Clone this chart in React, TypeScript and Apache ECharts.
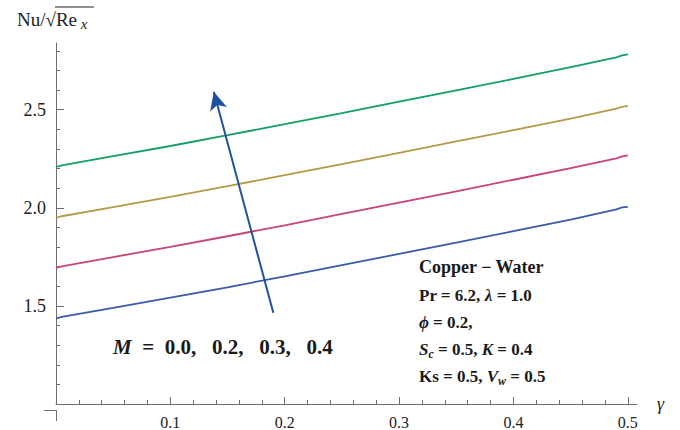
import React, { useEffect, useRef } from "react";
import * as echarts from "echarts";

// gamma values (x)
const gamma = [0, 0.005, 0.05, 0.1, 0.15, 0.2, 0.25, 0.3, 0.35, 0.4, 0.45, 0.49, 0.495, 0.5];
// Nu/sqrt(Re_x) for M = 0.0, 0.2, 0.3, 0.4
const nuM00 = [1.435, 1.444, 1.49, 1.542, 1.595, 1.651, 1.708, 1.765, 1.823, 1.881, 1.94, 1.992, 2.002, 2.005];
const nuM02 = [1.694, 1.702, 1.749, 1.801, 1.855, 1.911, 1.969, 2.026, 2.084, 2.143, 2.202, 2.252, 2.262, 2.267];
const nuM03 = [1.949, 1.957, 2.004, 2.056, 2.11, 2.166, 2.223, 2.28, 2.338, 2.396, 2.455, 2.505, 2.515, 2.52];
const nuM04 = [2.208, 2.216, 2.263, 2.315, 2.37, 2.426, 2.483, 2.541, 2.599, 2.657, 2.717, 2.767, 2.777, 2.782];

const seriesNames = ["M = 0.0", "M = 0.2", "M = 0.3", "M = 0.4"];
const seriesColors = ["#3b5aa9", "#c8427c", "#b39a47", "#12a064"];

const xTickValues = [0, 0.1, 0.2, 0.3, 0.4, 0.5];
const xLabelValues = [0.1, 0.2, 0.3, 0.4, 0.5];
const yTickValues = [1.0, 1.5, 2.0, 2.5];
const yLabelValues = [1.5, 2.0, 2.5];

// arrow annotation (gamma, Nu)
const arrowStart = [0.19, 1.465];
const arrowEnd = [0.138, 2.591];

const SERIF = "'Liberation Serif', 'Times New Roman', serif";
const AXIS_COLOR = "#6f6f6f";

export default function App() {
  const ref = useRef<HTMLDivElement>(null);

  useEffect(() => {
    if (!ref.current) return;
    const chart = echarts.init(ref.current, undefined, { renderer: "svg" });
    const all = [nuM00, nuM02, nuM03, nuM04];

    const series: any[] = all.map((vals, i) => ({
      name: seriesNames[i],
      type: "line",
      data: gamma.map((g, k) => [g, vals[k]]),
      showSymbol: false,
      symbol: "none",
      clip: false,
      smooth: false,
      lineStyle: { color: seriesColors[i], width: 1.8 },
      itemStyle: { color: seriesColors[i] },
      z: 3,
    }));

    series[0].markLine = {
      silent: true,
      animation: false,
      symbol: ["none", "arrow"],
      symbolSize: [13, 18],
      label: { show: false },
      lineStyle: { color: "#1f51a3", width: 2, type: "solid" },
      data: [[{ coord: arrowStart }, { coord: arrowEnd }]],
    };

    const sub = (extra: any = {}) => ({
      fontFamily: SERIF,
      fontSize: 12,
      fontWeight: "bold",
      fontStyle: "italic",
      lineHeight: 24,
      padding: [10, 0, 0, 0],
      fill: "#1a1a1a",
      ...extra,
    });
    const bold = {
      fontFamily: SERIF,
      fontSize: 17,
      fontWeight: "bold",
      lineHeight: 24,
      fill: "#1a1a1a",
    };
    const boldIt = { ...bold, fontStyle: "italic" };

    const textLines = [
      { y: 267, text: "{b|Copper − Water}", big: true },
      { y: 295, text: "{b|Pr = 6.2, }{i|λ}{b| = 1.0}" },
      { y: 322, text: "{i|ϕ}{b| = 0.2,}" },
      { y: 349, text: "{i|S}{s|c}{b| = 0.5, }{i|K}{b| = 0.4}" },
      { y: 376, text: "{b|Ks = 0.5, }{i|V}{s|w}{b| = 0.5}" },
    ];

    const graphics: any[] = textLines.map((l) => ({
      type: "text",
      x: 419,
      y: l.y,
      silent: true,
      style: {
        text: l.text,
        verticalAlign: "middle",
        rich: {
          b: l.big ? { ...bold, fontSize: 18 } : bold,
          i: boldIt,
          s: sub(),
        },
      },
    }));

    graphics.push({
      type: "text",
      x: 113,
      y: 347,
      silent: true,
      style: {
        text: "{i|M}{b|  =  0.0,   0.2,   0.3,   0.4}",
        verticalAlign: "middle",
        rich: {
          i: { ...boldIt, fontSize: 21 },
          b: { ...bold, fontSize: 21 },
        },
      },
    });

    // y axis title: Nu / sqrt(Re_x)
    graphics.push({
      type: "text",
      x: 17,
      y: 19,
      silent: true,
      style: {
        text: "{n|Nu/√}{r|Re}{s| x}",
        verticalAlign: "middle",
        rich: {
          n: { fontFamily: SERIF, fontSize: 19, lineHeight: 22, fill: "#222" },
          r: { fontFamily: SERIF, fontSize: 19, lineHeight: 22, fill: "#222" },
          s: { fontFamily: SERIF, fontSize: 15, fontStyle: "italic", lineHeight: 22, padding: [9, 0, 0, 0], fill: "#222" },
        },
      },
    });
    graphics.push({
      type: "line",
      silent: true,
      shape: { x1: 55, y1: 7, x2: 94, y2: 7 },
      style: { stroke: "#222", lineWidth: 1 },
    });

    // axes overhang past the crossing point
    graphics.push({
      type: "line",
      silent: true,
      shape: { x1: 44, y1: 410.5, x2: 56, y2: 410.5 },
      style: { stroke: AXIS_COLOR, lineWidth: 1 },
    });
    graphics.push({
      type: "line",
      silent: true,
      shape: { x1: 56.5, y1: 410, x2: 56.5, y2: 421 },
      style: { stroke: AXIS_COLOR, lineWidth: 1 },
    });

    chart.setOption({
      animation: false,
      backgroundColor: "#ffffff",
      grid: { left: 56, top: 43, right: 43, bottom: 20, containLabel: false },
      xAxis: {
        type: "value",
        min: 0,
        max: 0.508,
        interval: 0.1,
        name: "γ",
        nameLocation: "end",
        nameGap: 20,
        nameTextStyle: { fontFamily: SERIF, fontSize: 18, fontStyle: "italic", color: "#222", verticalAlign: "middle" },
        axisLine: { show: true, lineStyle: { color: AXIS_COLOR, width: 1 } },
        axisTick: { show: true, inside: true, length: 7, customValues: xTickValues, lineStyle: { color: AXIS_COLOR } },
        minorTick: { show: true, splitNumber: 5, length: 4, lineStyle: { color: AXIS_COLOR } },
        axisLabel: {
          show: true,
          customValues: xLabelValues,
          margin: 10,
          fontFamily: SERIF,
          fontSize: 16,
          color: "#222",
          formatter: (v: number) => v.toFixed(1),
        },
        splitLine: { show: false },
        minorSplitLine: { show: false },
      },
      yAxis: {
        type: "value",
        min: 1.0,
        max: 2.84,
        interval: 0.5,
        axisLine: { show: true, onZero: false, lineStyle: { color: AXIS_COLOR, width: 1 } },
        axisTick: { show: true, inside: true, length: 8, customValues: yTickValues, lineStyle: { color: AXIS_COLOR } },
        minorTick: { show: true, splitNumber: 5, length: 4, lineStyle: { color: AXIS_COLOR } },
        axisLabel: {
          show: true,
          customValues: yLabelValues,
          margin: 10,
          fontFamily: SERIF,
          fontSize: 18,
          color: "#222",
          formatter: (v: number) => v.toFixed(1),
        },
        splitLine: { show: false },
        minorSplitLine: { show: false },
      },
      series,
      graphic: graphics,
    });

    return () => chart.dispose();
  }, []);

  return (
    <div
      ref={ref}
      style={{ position: "fixed", left: 0, top: 0, width: 680, height: 430, background: "#fff" }}
    />
  );
}
